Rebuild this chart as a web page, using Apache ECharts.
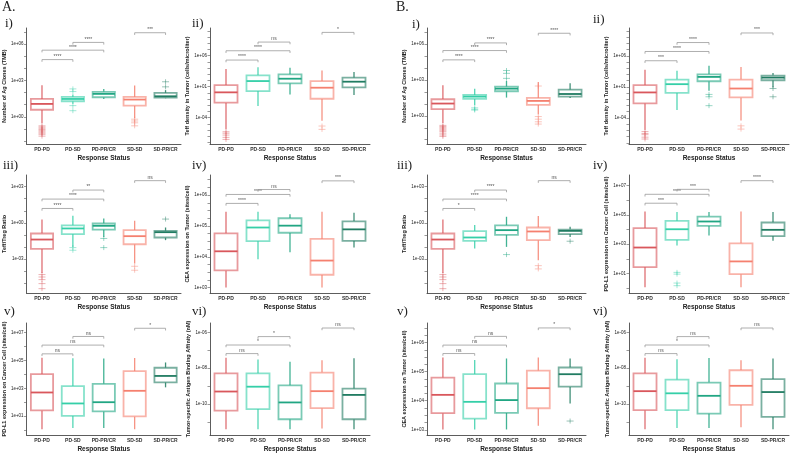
<!DOCTYPE html>
<html><head><meta charset="utf-8">
<script src="https://cdn.jsdelivr.net/npm/echarts@6/dist/echarts.min.js"></script>
<style>html,body{margin:0;padding:0;background:#fff}#c{width:793px;height:454px}</style>
</head><body><div id="c"></div>
<script>
// ---------- DATA (values are log10 of the plotted quantity) ----------
const categories = ['PD-PD','PD-SD','PD-PR/CR','SD-SD','SD-PR/CR'];
const xName = 'Response Status';
// each box: [lowerWhisker, q1, median, q3, upperWhisker]
// ---- A i)
const A1_box = [[-0.53,0.58,1.06,1.47,2.61],[1.08,1.28,1.47,1.64,1.83],[1.47,1.61,1.89,2.06,2.3],[-0.11,0.92,1.42,1.64,2.58],[1.53,1.58,1.69,1.97,2.2]];
const A1_out = [[0,-0.75],[0,-0.85],[0,-0.95],[0,-1.05],[0,-1.15],[0,-1.25],[0,-1.35],[0,-1.45],[0,-1.6],[1,2.3],[1,2.08],[1,0.92],[1,0.5],[3,-0.2],[3,-0.35],[3,-0.5],[3,-0.75],[4,2.89],[4,2.47]];
const A1_sig = [[0,1,4.72,'****'],[0,2,5.5,'****'],[1,2,6.14,'****'],[3,4,6.94,'***']];
const A1_ticks = [-2,-1,0,1,2,3,4,5,6,7];
const A1_labels = [0,3,6];
// ---- A ii)
const A2_box = [[-5.88,-1.58,0.09,1.27,3.85],[-2.12,0.3,1.91,2.83,4.12],[-0.24,1.54,2.29,2.99,4.06],[-4.48,-0.94,0.84,1.91,3.63],[-0.34,0.89,1.81,2.45,3.37]];
const A2_out = [[0,-6.26],[0,-6.5],[0,-6.8],[0,-7.17],[0,-7.5],[3,-5.34],[3,-5.88]];
const A2_sig = [[0,1,5.3,'****'],[0,2,6.8,'****'],[1,2,8.2,'ns'],[3,4,9.76,'*']];
const A2_ticks = [-8,-7,-6,-5,-4,-3,-2,-1,0,1,2,3,4,5,6,7,8,9,10];
const A2_labels = [-4,1,6];
// ---- A iii)
const A3_box = [[-4.17,-2.17,-1.39,-0.89,0.28],[-2.0,-0.94,-0.47,-0.22,0.58],[-1.17,-0.56,-0.25,-0.06,0.36],[-3.39,-1.78,-1.11,-0.61,0.17],[-1.44,-1.22,-0.78,-0.67,-0.39]];
const A3_out = [[0,-4.3],[0,-4.5],[0,-4.72],[0,-5.05],[0,-5.47],[1,-2.06],[1,-2.28],[2,-1.3],[2,-2.06],[3,-3.61],[3,-3.94],[4,0.31]];
const A3_sig = [[0,1,1.19,'****'],[0,2,1.97,'****'],[1,2,2.72,'**'],[3,4,3.5,'ns']];
const A3_ticks = [-5,-4,-3,-2,-1,0,1,2,3];
const A3_labels = [-3,0,3];
// ---- A iv)
const A4_box = [[3.01,3.56,4.18,4.76,5.46],[3.92,4.51,4.95,5.18,5.46],[4.15,4.78,5.01,5.25,5.38],[3.01,3.42,3.88,4.58,5.46],[4.3,4.52,4.89,5.15,5.43]];
const A4_out = [];
const A4_sig = [[0,1,5.73,'****'],[0,2,6.02,'****'],[1,2,6.18,'ns'],[3,4,6.46,'***']];
const A4_ticks = [3,3.25,3.5,3.75,4,4.25,4.5,4.75,5,5.25,5.5,5.75,6,6.25,6.5];
const A4_labels = [3,4,5,6];
// ---- A v)
const A5_box = [[0.05,1.41,2.7,4.02,5.2],[0.14,1.02,1.91,3.16,5.16],[0.14,1.34,2.0,3.32,5.14],[0.05,0.98,2.82,4.23,5.18],[3.07,3.43,3.89,4.48,4.86]];
const A5_out = [];
const A5_sig = [[0,1,5.48,'ns'],[0,2,6.11,'ns'],[1,2,6.73,'ns'],[3,4,7.32,'*']];
const A5_ticks = [0,1,2,3,4,5,6,7];
const A5_labels = [1,3,5,7];
// ---- A vi)
const A6_box = [[-11.42,-10.38,-9.31,-8.3,-7.42],[-11.42,-10.29,-9.04,-8.3,-7.52],[-11.42,-10.86,-9.92,-8.97,-7.65],[-11.37,-10.24,-9.29,-8.25,-7.56],[-11.42,-10.86,-9.5,-9.15,-7.45]];
const A6_out = [];
const A6_sig = [[0,1,-7.19,'ns'],[0,2,-6.71,'*'],[1,2,-6.24,'*'],[3,4,-5.76,'ns']];
const A6_ticks = [-11,-10,-9,-8,-7,-6];
const A6_labels = [-10,-8,-6];
// ---- B i)
const B1_box = [[-0.61,0.56,1.03,1.39,2.56],[0.89,1.42,1.61,1.75,2.28],[1.53,2.06,2.28,2.44,2.92],[0.14,0.92,1.25,1.5,2.83],[1.5,1.61,1.83,2.19,2.72]];
const B1_out = [[0,-0.8],[0,-0.9],[0,-1.0],[0,-1.1],[0,-1.2],[0,-1.3],[0,-1.45],[0,-1.6],[0,-1.72],[1,0.67],[1,0.55],[1,0.48],[2,3.14],[2,3.56],[2,3.8],[3,2.5],[3,-0.06],[3,-0.28],[3,-0.5],[3,-0.69]];
const B1_sig = [[0,1,4.69,'****'],[0,2,5.47,'****'],[1,2,6.11,'****'],[3,4,6.92,'****']];
const B1_ticks = A1_ticks;
const B1_labels = [0,3,6];
// ---- B ii)
const B2_box = [[-5.9,-1.66,0.1,1.27,3.77],[-2.72,0.04,1.43,2.17,3.6],[0.36,1.9,2.6,3.02,4.4],[-4.43,-0.7,0.73,2.17,4.19],[0.89,2.06,2.49,2.81,3.23]];
const B2_out = [[0,-6.2],[0,-6.5],[0,-6.7],[0,-7.1],[0,-7.4],[2,-0.22],[2,-0.6],[2,-2.03],[3,-5.28],[3,-5.8],[4,0.73],[4,-0.6]];
const B2_sig = [[0,1,5.2,'***'],[0,2,6.69,'****'],[1,2,8.13,'****'],[3,4,9.67,'***']];
const B2_ticks = A2_ticks;
const B2_labels = [-4,1,6];
// ---- B iii)
const B3_box = [[-4.17,-2.17,-1.39,-0.89,0.28],[-2.14,-1.5,-1.22,-0.69,-0.19],[-2.0,-1.0,-0.61,-0.22,0.5],[-3.11,-1.44,-0.72,-0.39,0.56],[-1.17,-0.94,-0.67,-0.56,-0.33]];
const B3_out = [[0,-4.3],[0,-4.5],[0,-4.72],[0,-5.05],[0,-5.47],[2,-2.64],[3,-3.56],[3,-3.83],[4,-1.53]];
const B3_sig = [[0,1,1.19,'*'],[0,2,1.97,'****'],[1,2,2.72,'****'],[3,4,3.5,'ns']];
const B3_ticks = A3_ticks;
const B3_labels = [-3,0,3];
// ---- B iv)
const B4_box = [[0.05,1.43,2.77,4.09,5.23],[2.91,3.3,4.02,4.59,5.2],[3.59,4.25,4.55,4.89,5.2],[0.05,0.95,1.82,3.05,5.23],[3.23,3.55,3.98,4.48,5.2]];
const B4_out = [[1,1.07],[1,0.95],[1,0.34],[1,0.16]];
const B4_sig = [[0,1,5.8,'***'],[0,2,6.41,'****'],[1,2,6.75,'***'],[3,4,7.34,'****']];
const B4_ticks = [0,1,2,3,4,5,6,7];
const B4_labels = [1,3,5,7];
// ---- B v)
const B5_box = [[3.01,3.57,4.2,4.79,5.48],[3.01,3.38,3.96,4.91,5.4],[3.01,3.58,4.02,4.59,5.45],[3.14,3.74,4.43,5.03,5.48],[3.9,4.48,4.91,5.14,5.45]];
const B5_out = [[4,3.3]];
const B5_sig = [[0,1,5.62,'ns'],[0,2,5.91,'ns'],[1,2,6.21,'ns'],[3,4,6.5,'*']];
const B5_ticks = A4_ticks;
const B5_labels = [3,4,5,6];
// ---- B vi)
const B6_box = [[-11.42,-10.35,-9.29,-8.3,-7.42],[-11.35,-10.35,-9.41,-8.65,-7.51],[-11.35,-10.54,-9.55,-8.81,-7.44],[-11.3,-10.06,-8.99,-8.12,-7.56],[-11.42,-10.73,-9.34,-8.62,-7.47]];
const B6_out = [];
const B6_sig = [[0,1,-7.19,'ns'],[0,2,-6.71,'*'],[1,2,-6.24,'ns'],[3,4,-5.76,'ns']];
const B6_ticks = A6_ticks;
const B6_labels = [-10,-8,-6];

const yNames = {
  A1:'Number of Ag Clones (TMB)', A2:'Teff density in Tumor (cells/microliter)', A3:'Teff/Treg Ratio',
  A4:'CEA expression on Tumor (sites/cell)', A5:'PD-L1 expression on Cancer Cell (sites/cell)', A6:'Tumor-specific Antigen Binding Affinity (nM)',
  B1:'Number of Ag Clones (TMB)', B2:'Teff density in Tumor (cells/microliter)', B3:'Teff/Treg Ratio',
  B4:'PD-L1 expression on Cancer Cell (sites/cell)', B5:'CEA expression on Tumor (sites/cell)', B6:'Tumor-specific Antigen Binding Affinity (nM)'
};

// ---------- LAYOUT / STYLE ----------
const COLORS = ['#d9575c','#35cfa8','#21a683','#f5806f','#217c62'];
const colLeft = [21, 210, 427, 629];
const colWidth = [160, 160, 159, 160];
const rowTop = [28, 175, 323];
const rowBottom = [144, 293, 442];

const panels = [
  {k:'A1', box:A1_box, out:A1_out, sig:A1_sig, ticks:A1_ticks, labels:A1_labels, min:-2.25, max:7.33, col:0, row:0},
  {k:'A2', box:A2_box, out:A2_out, sig:A2_sig, ticks:A2_ticks, labels:A2_labels, min:-8.24, max:10.47, col:1, row:0},
  {k:'A3', box:A3_box, out:A3_out, sig:A3_sig, ticks:A3_ticks, labels:A3_labels, min:-5.83, max:3.97, col:0, row:1},
  {k:'A4', box:A4_box, out:A4_out, sig:A4_sig, ticks:A4_ticks, labels:A4_labels, min:2.83, max:6.65, col:1, row:1},
  {k:'A5', box:A5_box, out:A5_out, sig:A5_sig, ticks:A5_ticks, labels:A5_labels, min:-0.36, max:7.7, col:0, row:2},
  {k:'A6', box:A6_box, out:A6_out, sig:A6_sig, ticks:A6_ticks, labels:A6_labels, min:-11.74, max:-5.48, col:1, row:2},
  {k:'B1', box:B1_box, out:B1_out, sig:B1_sig, ticks:B1_ticks, labels:B1_labels, min:-2.36, max:7.36, col:2, row:0},
  {k:'B2', box:B2_box, out:B2_out, sig:B2_sig, ticks:B2_ticks, labels:B2_labels, min:-8.2, max:10.47, col:3, row:0},
  {k:'B3', box:B3_box, out:B3_out, sig:B3_sig, ticks:B3_ticks, labels:B3_labels, min:-5.83, max:3.97, col:2, row:1},
  {k:'B4', box:B4_box, out:B4_out, sig:B4_sig, ticks:B4_ticks, labels:B4_labels, min:-0.34, max:7.73, col:3, row:1},
  {k:'B5', box:B5_box, out:B5_out, sig:B5_sig, ticks:B5_ticks, labels:B5_labels, min:2.82, max:6.67, col:2, row:2},
  {k:'B6', box:B6_box, out:B6_out, sig:B6_sig, ticks:B6_ticks, labels:B6_labels, min:-11.74, max:-5.48, col:3, row:2}
];

function fmtExp(v){
  const e = Math.round(v);
  const s = Math.abs(e) < 10 ? '0' + Math.abs(e) : '' + Math.abs(e);
  return '1e' + (e < 0 ? '-' : '+') + s;
}
function alpha(hex, a){
  const n = parseInt(hex.slice(1),16);
  return 'rgba(' + ((n>>16)&255) + ',' + ((n>>8)&255) + ',' + (n&255) + ',' + a + ')';
}
const FONT = 'Liberation Sans, Arial, sans-serif';

const grids = [], xAxes = [], yAxes = [], series = [];
panels.forEach((p, i) => {
  grids.push({left: colLeft[p.col], width: colWidth[p.col], top: rowTop[p.row], height: rowBottom[p.row] - rowTop[p.row]});
  xAxes.push({
    gridIndex: i, type: 'category', data: categories, boundaryGap: true,
    axisLine: {onZero: false, lineStyle: {color: '#333', width: 0.8}}, axisTick: {show: false},
    axisLabel: {fontSize: 5, fontWeight: 'bold', color: '#333', margin: 3, fontFamily: FONT, interval: 0},
    name: xName, nameLocation: 'middle', nameGap: 11,
    nameTextStyle: {fontSize: 6.5, fontWeight: 'bold', color: '#222', fontFamily: FONT},
    splitLine: {show: false}
  });
  yAxes.push({
    gridIndex: i, type: 'value', min: p.min, max: p.max,
    axisLine: {show: true, onZero: false, lineStyle: {color: '#333', width: 0.8}},
    axisTick: {show: true, length: 2.5, customValues: p.ticks, lineStyle: {color: '#555', width: 0.6}},
    axisLabel: {customValues: p.labels, formatter: fmtExp, fontSize: 4.5, color: '#222', margin: 3, fontFamily: FONT},
    splitLine: {show: false},
    name: yNames[p.k], nameLocation: 'middle', nameGap: 13, nameRotate: 90,
    nameTextStyle: {fontSize: 5.5, fontWeight: 'bold', color: '#222', fontFamily: FONT}
  });
  // boxes
  series.push({
    type: 'custom', xAxisIndex: i, yAxisIndex: i, clip: false,
    data: p.box.map((b, c) => [c].concat(b)),
    renderItem: function(params, api){
      const c = api.value(0);
      const col = COLORS[c];
      const pLo = api.coord([c, api.value(1)]);
      const pQ1 = api.coord([c, api.value(2)]);
      const pMd = api.coord([c, api.value(3)]);
      const pQ3 = api.coord([c, api.value(4)]);
      const pHi = api.coord([c, api.value(5)]);
      const w = api.size([1, 0])[0] * 0.72;
      const x = pMd[0];
      return {type: 'group', children: [
        {type: 'line', shape: {x1: x, y1: pQ3[1], x2: x, y2: pHi[1]}, style: {stroke: alpha(col, 0.85), lineWidth: 1.3}},
        {type: 'line', shape: {x1: x, y1: pQ1[1], x2: x, y2: pLo[1]}, style: {stroke: alpha(col, 0.85), lineWidth: 1.3}},
        {type: 'rect', shape: {x: x - w/2, y: pQ3[1], width: w, height: pQ1[1] - pQ3[1]}, style: {fill: '#fff', stroke: alpha(col, 0.6), lineWidth: 1.8}},
        {type: 'line', shape: {x1: x - w/2, y1: pMd[1], x2: x + w/2, y2: pMd[1]}, style: {stroke: col, lineWidth: 1.8}}
      ]};
    }
  });
  // outliers
  series.push({
    type: 'custom', xAxisIndex: i, yAxisIndex: i, clip: false,
    data: p.out,
    renderItem: function(params, api){
      const c = api.value(0);
      const pt = api.coord([c, api.value(1)]);
      const col = alpha(COLORS[c], 0.45);
      return {type: 'group', children: [
        {type: 'line', shape: {x1: pt[0] - 3.5, y1: pt[1], x2: pt[0] + 3.5, y2: pt[1]}, style: {stroke: col, lineWidth: 1}},
        {type: 'line', shape: {x1: pt[0], y1: pt[1] - 2.5, x2: pt[0], y2: pt[1] + 2.5}, style: {stroke: col, lineWidth: 1}}
      ]};
    }
  });
  // significance brackets
  const sig = p.sig;
  series.push({
    type: 'custom', xAxisIndex: i, yAxisIndex: i, clip: false,
    data: sig.map(s => [s[0], s[1], s[2]]),
    renderItem: function(params, api){
      const a = api.coord([api.value(0), api.value(2)]);
      const b = api.coord([api.value(1), api.value(2)]);
      const txt = sig[params.dataIndex][3];
      return {type: 'group', children: [
        {type: 'polyline', shape: {points: [[a[0], a[1] + 2.2], [a[0], a[1]], [b[0], b[1]], [b[0], b[1] + 2.2]]}, style: {stroke: '#9a9a9a', lineWidth: 0.8, fill: null}},
        {type: 'text', x: (a[0] + b[0]) / 2, y: a[1] - 0.5, style: {text: txt, fontSize: 5, fill: '#555', align: 'center', verticalAlign: 'bottom', fontFamily: FONT}}
      ]};
    }
  });
});

const panelLabels = [
  ['A.', 2, 0, 14], ['B.', 396, 0, 14],
  ['i)', 5, 17, 13], ['ii)', 192, 17, 13], ['iii)', 3, 159, 13], ['iv)', 192, 159, 13], ['v)', 4, 305, 13], ['vi)', 192, 305, 13],
  ['i)', 412, 18, 13], ['ii)', 593, 13, 13], ['iii)', 397, 159, 13], ['iv)', 593, 159, 13], ['v)', 397, 305, 13], ['vi)', 593, 305, 13]
];
const graphic = panelLabels.map(l => ({type: 'text', left: l[1], top: l[2], style: {text: l[0], fontSize: l[3], fill: '#222', fontFamily: 'Liberation Serif, Times New Roman, serif'}}));

const chart = echarts.init(document.getElementById('c'), null, {renderer: 'canvas'});
chart.setOption({animation: false, backgroundColor: '#fff', grid: grids, xAxis: xAxes, yAxis: yAxes, series: series, graphic: graphic});
</script></body></html>
